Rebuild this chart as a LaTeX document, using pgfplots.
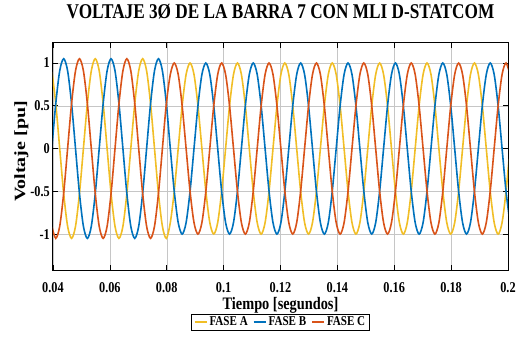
\documentclass[border=0pt]{standalone}
\usepackage{fontspec}
\setmainfont{Liberation Serif}[FakeStretch=0.82]
\newfontfamily\ylfont{Liberation Serif}
\usepackage{graphicx}
\usepackage{pgfplots}
\usepackage{pgfplotstable}
\pgfplotsset{compat=1.18}
\definecolor{faseA}{rgb}{0.945,0.745,0.15}
\definecolor{faseB}{rgb}{0,0.447,0.741}
\definecolor{faseC}{rgb}{0.851,0.325,0.098}
\pgfplotstableread{
t A B C
0.039583  0.909  0      -0.909
0.040972  0.525  0.525  -1.05
0.042361  0      0.909  -0.909
0.043750 -0.525  1.05   -0.525
0.045139 -0.909  0.909   0
0.046528 -1.05   0.525   0.525
0.047917 -0.909  0       0.909
0.049306 -0.525 -0.525   1.05
0.050694  0     -0.909   0.909
0.052083  0.525 -1.05    0.525
0.053472  0.909 -0.909   0
0.054861  1.05  -0.525  -0.525
0.056250  0.909  0      -0.909
0.057639  0.525  0.525  -1.05
0.059028  0      0.909  -0.909
0.060417 -0.525  1.05   -0.525
0.061806 -0.909  0.909   0
0.063194 -1.05   0.525   0.525
0.064583 -0.909  0       0.909
0.065972 -0.525 -0.525   1.05
0.067361  0     -0.909   0.909
0.068750  0.525 -1.05    0.525
0.070139  0.909 -0.909   0
0.071528  1.05  -0.525  -0.525
0.072917  0.909  0      -0.909
0.074306  0.525  0.525  -1.05
0.075694  0      0.909  -0.909
0.077083 -0.525  1.05   -0.525
0.078472 -0.909  0.909   0
0.079861 -1.05   0.525   0.525
0.081250 -0.866  0       0.866
0.082639 -0.5   -0.5     1
0.084028  0     -0.866   0.866
0.085417  0.5   -1       0.5
0.086806  0.866 -0.866   0
0.088194  1     -0.5    -0.5
0.089583  0.866  0      -0.866
0.090972  0.5    0.5    -1
0.092361  0      0.866  -0.866
0.093750 -0.5    1      -0.5
0.095139 -0.866  0.866   0
0.096528 -1      0.5     0.5
0.097917 -0.866  0       0.866
0.099306 -0.5   -0.5     1
0.100694  0     -0.866   0.866
0.102083  0.5   -1       0.5
0.103472  0.866 -0.866   0
0.104861  1     -0.5    -0.5
0.106250  0.866  0      -0.866
0.107639  0.5    0.5    -1
0.109028  0      0.866  -0.866
0.110417 -0.5    1      -0.5
0.111806 -0.866  0.866   0
0.113194 -1      0.5     0.5
0.114583 -0.866  0       0.866
0.115972 -0.5   -0.5     1
0.117361  0     -0.866   0.866
0.118750  0.5   -1       0.5
0.120139  0.866 -0.866   0
0.121528  1     -0.5    -0.5
0.122917  0.866  0      -0.866
0.124306  0.5    0.5    -1
0.125694  0      0.866  -0.866
0.127083 -0.5    1      -0.5
0.128472 -0.866  0.866   0
0.129861 -1      0.5     0.5
0.131250 -0.866  0       0.866
0.132639 -0.5   -0.5     1
0.134028  0     -0.866   0.866
0.135417  0.5   -1       0.5
0.136806  0.866 -0.866   0
0.138194  1     -0.5    -0.5
0.139583  0.866  0      -0.866
0.140972  0.5    0.5    -1
0.142361  0      0.866  -0.866
0.143750 -0.5    1      -0.5
0.145139 -0.866  0.866   0
0.146528 -1      0.5     0.5
0.147917 -0.866  0       0.866
0.149306 -0.5   -0.5     1
0.150694  0     -0.866   0.866
0.152083  0.5   -1       0.5
0.153472  0.866 -0.866   0
0.154861  1     -0.5    -0.5
0.156250  0.866  0      -0.866
0.157639  0.5    0.5    -1
0.159028  0      0.866  -0.866
0.160417 -0.5    1      -0.5
0.161806 -0.866  0.866   0
0.163194 -1      0.5     0.5
0.164583 -0.866  0       0.866
0.165972 -0.5   -0.5     1
0.167361  0     -0.866   0.866
0.168750  0.5   -1       0.5
0.170139  0.866 -0.866   0
0.171528  1     -0.5    -0.5
0.172917  0.866  0      -0.866
0.174306  0.5    0.5    -1
0.175694  0      0.866  -0.866
0.177083 -0.5    1      -0.5
0.178472 -0.866  0.866   0
0.179861 -1      0.5     0.5
0.181250 -0.866  0       0.866
0.182639 -0.5   -0.5     1
0.184028  0     -0.866   0.866
0.185417  0.5   -1       0.5
0.186806  0.866 -0.866   0
0.188194  1     -0.5    -0.5
0.189583  0.866  0      -0.866
0.190972  0.5    0.5    -1
0.192361  0      0.866  -0.866
0.193750 -0.5    1      -0.5
0.195139 -0.866  0.866   0
0.196528 -1      0.5     0.5
0.197917 -0.866  0       0.866
0.199306 -0.5   -0.5     1
0.200694  0     -0.866   0.866
}\datatable
\begin{document}
\begin{tikzpicture}
\begin{axis}[
  at={(0pt,0pt)}, anchor=south west,
  scale only axis, width=455pt, height=227pt,
  xmin=0.04, xmax=0.2, ymin=-1.42, ymax=1.234,
  xtick={0.04,0.06,0.08,0.1,0.12,0.14,0.16,0.18,0.2},
  xticklabels={0.04,0.06,0.08,0.1,0.12,0.14,0.16,0.18,0.2},
  ytick={-1,-0.5,0,0.5,1},
  yticklabels={-1,-0.5,0,0.5,1},
  grid=major, major grid style={gray!45, line width=0.5pt},
  tick align=inside, major tick length=5pt,
  tick style={black, line width=0.6pt},
  axis line style={black, line width=1pt},
  tick label style={font=\fontsize{15}{16}\selectfont\bfseries},
  xticklabel style={anchor=base, yshift=-22.5pt, inner sep=0pt},
  yticklabel style={anchor=east, inner sep=0pt, xshift=-3pt},
  title={VOLTAJE 3Ø DE LA BARRA 7 CON MLI D-STATCOM},
  title style={at={(axis description cs:0.5,1)}, anchor=base, yshift=18pt, inner sep=0pt, font=\fontsize{21}{23}\selectfont\bfseries},
  xlabel={Tiempo [segundos]},
  xlabel style={at={(axis description cs:0.5,0)}, anchor=base, yshift=-39.5pt, inner sep=0pt, font=\fontsize{17.5}{19}\selectfont\bfseries},
  ylabel={\scalebox{1}[0.78]{Voltaje [pu]}},
  ylabel style={at={(axis description cs:-0.0615,0.522)}, anchor=base, inner sep=0pt, font=\ylfont\fontsize{20}{22}\selectfont\bfseries},
  legend columns=3,
  legend style={at={(axis description cs:0.5,0)}, anchor=north, yshift=-43.5pt, draw=black, line width=0.8pt, font=\fontsize{13.5}{14}\selectfont\bfseries, inner xsep=2pt, inner ysep=1pt, /tikz/every even column/.append style={column sep=3pt}},
  legend image code/.code={\draw[#1, line width=1.8pt] (0pt,0pt) -- (12pt,0pt);},
]
\addplot[draw=faseA, line width=1.6pt, smooth] table[x=t, y=A] {\datatable};
\addplot[draw=faseB, line width=1.6pt, smooth] table[x=t, y=B] {\datatable};
\addplot[draw=faseC, line width=1.6pt, smooth] table[x=t, y=C] {\datatable};
\legend{FASE A, FASE B, FASE C}
\end{axis}
\pgfresetboundingbox
\path[use as bounding box] (-53pt,-68pt) rectangle (467pt,270pt);
\end{tikzpicture}
\end{document}
